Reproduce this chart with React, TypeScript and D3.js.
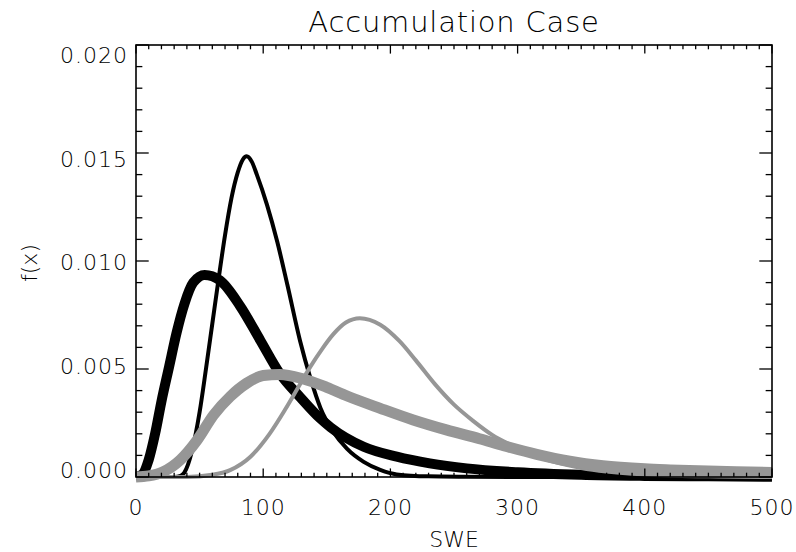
import React from 'react';
import * as d3 from 'd3';

const title = 'Accumulation Case';
const xTitle = 'SWE';
const yTitle = 'f(x)';
const xTicks = [0, 100, 200, 300, 400, 500];
const xTickLabels = ['0', '100', '200', '300', '400', '500'];
const yTicks = [0, 0.005, 0.01, 0.015, 0.02];
const yTickLabels = ['0.000', '0.005', '0.010', '0.015', '0.020'];

// Thin black curve
const thinBlackX = [0, 30, 35, 38, 44, 50, 55, 60, 65, 70, 75, 80, 84, 87, 91, 95, 103, 111, 119, 129, 137, 145, 155, 166, 179, 192, 205, 230, 260, 300, 500];
const thinBlackY = [0, 0, 0.00005, 0.0002, 0.0012, 0.003, 0.005, 0.0071, 0.0092, 0.0112, 0.0129, 0.0141, 0.0147, 0.01485, 0.0146, 0.014, 0.0126, 0.0109, 0.0089, 0.0063, 0.0046, 0.0032, 0.0021, 0.0013, 0.0007, 0.00033, 0.00012, 0.00003, 0.00001, 0, 0];

// Thick black curve
const thickBlackX = [0, 5, 10, 15, 20, 26, 32, 38, 45, 54, 66, 82, 98, 113, 129, 145, 153, 179, 205, 231, 260, 300, 350, 400, 450, 500];
const thickBlackY = [0, 0.00012, 0.0008, 0.002, 0.0035, 0.0051, 0.0067, 0.008, 0.009, 0.00935, 0.0091, 0.0079, 0.0063, 0.0048, 0.0037, 0.0027, 0.0023, 0.0014, 0.00094, 0.00063, 0.0004, 0.00022, 0.0001, 0.00005, 0.00003, 0.00001];

// Thin grey curve
const thinGreyX = [0, 40, 60, 74, 90, 105, 117, 127, 137, 146, 155, 165, 176, 192, 207, 220, 235, 250, 265, 280, 296, 320, 350, 400, 450, 500];
const thinGreyY = [0, 0, 0.0001, 0.00032, 0.00094, 0.002, 0.0031, 0.0041, 0.0051, 0.0059, 0.0066, 0.00715, 0.00735, 0.00705, 0.0063, 0.0054, 0.0043, 0.00335, 0.0026, 0.00195, 0.00145, 0.00085, 0.00042, 0.00012, 0.00003, 0];

// Thick grey curve
const thickGreyX = [0, 10, 21, 35, 48, 61, 74, 87, 100, 113, 131, 150, 166, 192, 218, 244, 270, 289, 315, 341, 367, 400, 420, 472, 500];
const thickGreyY = [0, 0.00005, 0.00023, 0.0008, 0.0017, 0.00287, 0.00372, 0.00434, 0.0047, 0.00475, 0.00455, 0.00415, 0.00375, 0.00318, 0.00264, 0.00218, 0.00177, 0.00145, 0.00105, 0.00073, 0.00052, 0.00038, 0.00033, 0.00024, 0.00021];

const W = 796;
const H = 552;
const left = 136;
const right = 772;
const top = 45;
const bottom = 477;

const font = '"DejaVu Sans", sans-serif';
const grey = '#969696';

export default function App() {
  const x = d3.scaleLinear().domain([0, 500]).range([left, right]);
  const y = d3.scaleLinear().domain([0, 0.02]).range([bottom, top]);
  const yLab = d3.scaleLinear().domain([0, 0.02]).range([470, 55]);

  const line = d3
    .line<[number, number]>()
    .x((d) => x(d[0]))
    .y((d) => y(d[1]))
    .curve(d3.curveMonotoneX);

  const zip = (xs: number[], ys: number[]) => xs.map((v, i) => [v, ys[i]] as [number, number]);

  const series = [
    { xs: thickBlackX, ys: thickBlackY, color: '#000', w: 10 },
    { xs: thinBlackX, ys: thinBlackY, color: '#000', w: 4 },
    { xs: thinGreyX, ys: thinGreyY, color: grey, w: 4 },
    { xs: thickGreyX, ys: thickGreyY, color: grey, w: 11 },
  ];

  const xMinor = d3.range(0, 501, 10);
  const yMinor = d3.range(0, 0.02001, 0.001);
  const isMajorX = (v: number) => v % 100 === 0;
  const isMajorY = (v: number) => Math.abs(v / 0.005 - Math.round(v / 0.005)) < 1e-6;

  const xLen = 8.6;
  const yLen = 12.7;

  return (
    <svg width={W} height={H} style={{ position: 'absolute', left: 0, top: 0, background: '#fff' }}>
      <rect x={0} y={0} width={W} height={H} fill="#fff" />
      {series.map((s, i) => (
        <path
          key={i}
          d={line(zip(s.xs, s.ys)) || ''}
          fill="none"
          stroke={s.color}
          strokeWidth={s.w}
          strokeLinejoin="round"
        />
      ))}
      <rect x={left} y={top} width={right - left} height={bottom - top} fill="none" stroke="#000" strokeWidth={1.6} />
      {xMinor.map((v) => {
        const len = isMajorX(v) ? xLen : xLen / 2;
        return (
          <g key={'x' + v} stroke="#000" strokeWidth={1.3}>
            <line x1={x(v)} x2={x(v)} y1={bottom} y2={bottom - len} />
            <line x1={x(v)} x2={x(v)} y1={top} y2={top + len} />
          </g>
        );
      })}
      {yMinor.map((v, i) => {
        const len = isMajorY(v) ? yLen : yLen / 2;
        return (
          <g key={'y' + i} stroke="#000" strokeWidth={1.3}>
            <line x1={left} x2={left + len} y1={y(v)} y2={y(v)} />
            <line x1={right} x2={right - len} y1={y(v)} y2={y(v)} />
          </g>
        );
      })}
      {xTicks.map((v, i) => (
        <text
          key={'xl' + v}
          x={x(v)}
          y={507.5}
          dy="0.36em"
          textAnchor="middle"
          fontFamily={font}
          fontSize={22}
          fontWeight={200}
          letterSpacing={1}
          fill="#000"
        >
          {xTickLabels[i]}
        </text>
      ))}
      {yTicks.map((v, i) => (
        <text
          key={'yl' + i}
          x={128}
          y={yLab(v)}
          dy="0.36em"
          textAnchor="end"
          fontFamily={font}
          fontSize={22}
          fontWeight={200}
          letterSpacing={1}
          fill="#000"
        >
          {yTickLabels[i]}
        </text>
      ))}
      <text
        x={(left + right) / 2}
        y={32}
        textAnchor="middle"
        fontFamily={font}
        fontSize={29}
        fontWeight={200}
        letterSpacing={0.8}
        fill="#000"
      >
        {title}
      </text>
      <text
        x={(left + right) / 2}
        y={539}
        dy="0.36em"
        textAnchor="middle"
        fontFamily={font}
        fontSize={22}
        fontWeight={200}
        fill="#000"
      >
        {xTitle}
      </text>
      <text
        transform={`translate(29,263) rotate(-90)`}
        dy="0.36em"
        textAnchor="middle"
        fontFamily={font}
        fontSize={22}
        fontWeight={200}
        fill="#000"
      >
        {yTitle}
      </text>
    </svg>
  );
}
